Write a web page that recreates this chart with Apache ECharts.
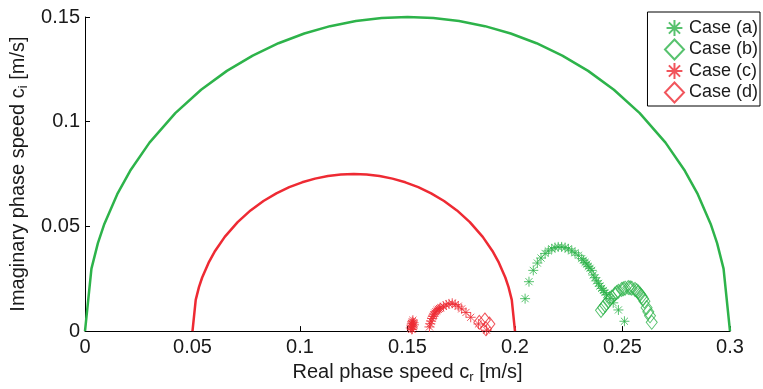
<!DOCTYPE html>
<html><head><meta charset="utf-8">
<script src="https://cdn.jsdelivr.net/npm/echarts@6/dist/echarts.min.js"></script>
<style>html,body{margin:0;padding:0;background:#fff}#c{width:763px;height:389px}</style>
</head><body><div id="c"></div>
<script>
// Axis ticks
const xTicks = [0, 0.05, 0.1, 0.15, 0.2, 0.25, 0.3];
const yTicks = [0, 0.05, 0.1, 0.15];

// Semicircle bound (green, outer)
const outerCr = [0,0.003,0.006,0.009,0.015,0.021,0.03,0.042,0.054,0.066,0.078,0.09,0.102,0.114,0.126,0.138,0.15,
  0.162,0.174,0.186,0.198,0.21,0.222,0.234,0.246,0.258,0.27,0.279,0.285,0.291,0.294,0.297,0.3];
const outerCi = [0,0.02985,0.042,0.05118,0.06538,0.07654,0.09,0.1041,0.11526,0.12427,0.13159,0.13748,0.14211,0.14562,0.14807,0.14952,0.15,
  0.14952,0.14807,0.14562,0.14211,0.13748,0.13159,0.12427,0.11526,0.1041,0.09,0.07654,0.06538,0.05118,0.042,0.02985,0];

// Semicircle bound (red, inner)
const innerCr = [0.05,0.0515,0.053,0.0545,0.0575,0.0605,0.065,0.071,0.077,0.083,0.089,0.095,0.101,0.107,0.113,0.119,0.125,
  0.131,0.137,0.143,0.149,0.155,0.161,0.167,0.173,0.179,0.185,0.1895,0.1925,0.1955,0.197,0.1985,0.2];
const innerCi = [0,0.014925,0.021,0.02559,0.03269,0.03827,0.045,0.05205,0.05763,0.062135,0.065795,0.06874,0.071055,0.07281,0.074035,0.07476,0.075,
  0.07476,0.074035,0.07281,0.071055,0.06874,0.065795,0.062135,0.05763,0.05205,0.045,0.03827,0.03269,0.02559,0.021,0.014925,0];

// Case (a): green asterisks
const caseACr = [0.2047,0.2065,0.2085,0.2104,0.2121,0.2140,0.2155,0.2171,0.2186,0.2201,0.2217,0.2233,0.2248,0.2264,0.2279,0.2295,0.2310,
  0.2318,0.2326,0.2334,0.2341,0.2349,0.2357,0.2364,0.2372,0.2380,0.2388,0.2395,0.2403,0.2411,0.2418,0.2426,0.2442,0.2457,0.2481,0.2509];
const caseACi = [0.0155,0.0236,0.0290,0.0325,0.0349,0.0371,0.0383,0.0393,0.0399,0.0402,0.0402,0.0399,0.0393,0.0383,0.0374,0.0362,0.0346,
  0.0338,0.0328,0.0320,0.0309,0.0300,0.0290,0.0268,0.0255,0.0240,0.0228,0.0215,0.0204,0.0194,0.0184,0.0174,0.0155,0.0135,0.0101,0.0047];

// Case (b): green diamonds
const caseBCr = [0.2400,0.2410,0.2419,0.2434,0.2442,0.2450,0.2465,0.2473,0.2481,0.2496,0.2504,0.2512,0.2527,0.2535,0.2543,0.2558,0.2566,0.2574,0.2582,0.2589,0.2596,0.2602,0.2612,0.2620,0.2628,0.2636];
const caseBCi = [0.0099,0.0112,0.0124,0.0143,0.0153,0.0162,0.0177,0.0184,0.0190,0.0199,0.0202,0.0205,0.0208,0.0207,0.0205,0.0199,0.0193,0.0186,0.0176,0.0166,0.0155,0.0143,0.0112,0.0092,0.0073,0.0042];

// Case (c): red asterisks
const caseCCr = [0.1515,0.1518,0.1520,0.1522,0.1525,0.1528,0.1530,0.1525,0.1522,0.1520,
  0.1602,0.1606,0.1610,0.1614,0.1618,0.1622,0.1627,0.1632,0.1637,0.1643,0.1649,0.1655,
  0.1667,0.1680,0.1693,0.1708,0.1722,0.1736,0.1752,0.1772,0.1794,0.1830,0.1868];
const caseCCi = [0.0015,0.0025,0.0035,0.0045,0.0052,0.0040,0.0030,0.0020,0.0010,0.0008,
  0.0020,0.0035,0.0048,0.0060,0.0070,0.0078,0.0086,0.0093,0.0099,0.0104,0.0108,0.0112,
  0.0118,0.0125,0.0130,0.0133,0.0127,0.0119,0.0106,0.0089,0.0066,0.0034,0.0004];

// Case (d): red diamonds
const caseDCr = [0.1834,0.1860,0.1881,0.1865];
const caseDCi = [0.0042,0.0053,0.0034,0.0011];

const GREEN = '#2DB34A';
const RED = '#EE2A33';
const FONT = 'Liberation Sans, Arial, sans-serif';
const ASTER = 'path://M0,10L20,10M10,0L10,20M2.93,2.93L17.07,17.07M17.07,2.93L2.93,17.07';
const ASTER_LEG = 'path://M-2,-2L-2,-2M22,22L22,22M0,10L20,10M10,0L10,20M2.93,2.93L17.07,17.07M17.07,2.93L2.93,17.07';

const zip = (a, b) => a.map((v, i) => [v, b[i]]);
const fmt = v => String(+(+v).toFixed(3));

const chart = echarts.init(document.getElementById('c'), null, {renderer: 'canvas'});
const subRich = {
  n: {fontSize: 20, fontFamily: FONT, color: '#1a1a1a', lineHeight: 24},
  s: {fontSize: 13, fontFamily: FONT, color: '#1a1a1a', lineHeight: 10, verticalAlign: 'bottom'}
};
chart.setOption({
  animation: false,
  backgroundColor: '#fff',
  textStyle: {fontFamily: FONT},
  grid: {left: 85, right: 33, top: 17, bottom: 50, containLabel: false},
  xAxis: {
    type: 'value', min: xTicks[0], max: xTicks[xTicks.length - 1], interval: 0.05,
    axisLine: {lineStyle: {color: '#000', width: 1}},
    axisTick: {inside: true, length: 5, lineStyle: {color: '#000'}},
    axisLabel: {fontSize: 20, color: '#1a1a1a', margin: 6, formatter: fmt, fontFamily: FONT},
    splitLine: {show: false},
    name: '{n|Real phase speed c}{s|r}{n| [m/s]}',
    nameLocation: 'middle', nameGap: 28,
    nameTextStyle: {rich: subRich}
  },
  yAxis: {
    type: 'value', min: yTicks[0], max: yTicks[yTicks.length - 1], interval: 0.05,
    axisLine: {show: true, lineStyle: {color: '#000', width: 1}},
    axisTick: {show: true, inside: true, length: 5, lineStyle: {color: '#000'}},
    axisLabel: {fontSize: 20, color: '#1a1a1a', margin: 5, formatter: fmt, fontFamily: FONT},
    splitLine: {show: false},
    name: '{n|Imaginary phase speed c}{s|i}{n| [m/s]}',
    nameLocation: 'middle', nameGap: 50, nameRotate: 90,
    nameTextStyle: {rich: subRich}
  },
  legend: {
    data: [
      {name: 'Case (a)', icon: ASTER_LEG},
      {name: 'Case (b)', icon: 'diamond'},
      {name: 'Case (c)', icon: ASTER_LEG},
      {name: 'Case (d)', icon: 'diamond'}
    ],
    orient: 'vertical', right: 3, top: 12,
    itemWidth: 19, itemHeight: 20, itemGap: -3, itemTextGap: 17,
    padding: [4, 2, 1, 15],
    backgroundColor: '#fff', borderColor: '#000', borderWidth: 1, borderRadius: 0,
    textStyle: {fontSize: 18, lineHeight: 20, color: '#1a1a1a', fontFamily: FONT},
    inactiveColor: '#ccc'
  },
  series: [
    {type: 'line', name: 'outer', data: zip(outerCr, outerCi), showSymbol: false, clip: false,
      lineStyle: {color: GREEN, width: 2.5}, z: 2},
    {type: 'line', name: 'inner', data: zip(innerCr, innerCi), showSymbol: false, clip: false,
      lineStyle: {color: RED, width: 2.5}, z: 2},
    {type: 'scatter', name: 'Case (a)', data: zip(caseACr, caseACi), symbol: ASTER, symbolSize: 10,
      itemStyle: {color: 'none', borderColor: GREEN, borderWidth: 1}, z: 3},
    {type: 'scatter', name: 'Case (b)', data: zip(caseBCr, caseBCi), symbol: 'diamond', symbolSize: [11, 14],
      itemStyle: {color: 'none', borderColor: GREEN, borderWidth: 1}, z: 3},
    {type: 'scatter', name: 'Case (c)', data: zip(caseCCr, caseCCi), symbol: ASTER, symbolSize: 10,
      itemStyle: {color: 'none', borderColor: RED, borderWidth: 1}, z: 3},
    {type: 'scatter', name: 'Case (d)', data: zip(caseDCr, caseDCi), symbol: 'diamond', symbolSize: [11, 14],
      itemStyle: {color: 'none', borderColor: RED, borderWidth: 1}, z: 3}
  ]
});
</script></body></html>
